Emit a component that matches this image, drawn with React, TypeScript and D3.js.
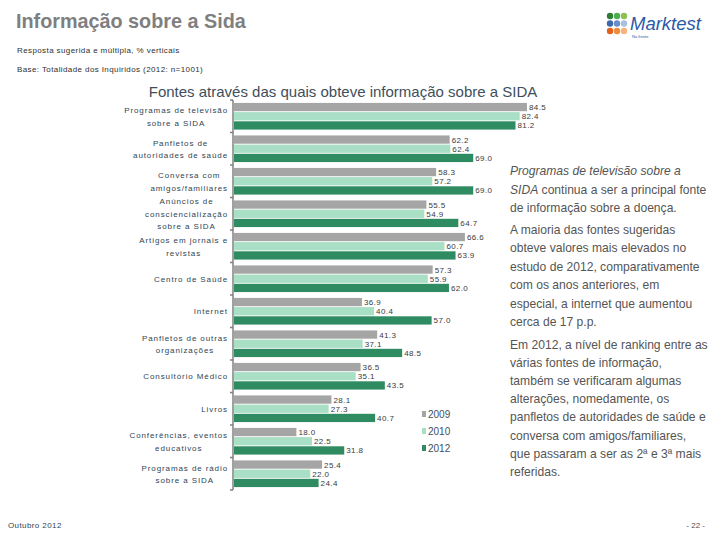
import React from "react";
import * as d3 from "d3";

const categories: string[][] = [
  ["Programas de televisão", "sobre a SIDA"],
  ["Panfletos de", "autoridades de saúde"],
  ["Conversa com", "amigos/familiares"],
  ["Anúncios de", "consciencialização", "sobre a SIDA"],
  ["Artigos em jornais e", "revistas"],
  ["Centro de Saúde"],
  ["Internet"],
  ["Panfletos de outras", "organizações"],
  ["Consultório Médico"],
  ["Livros"],
  ["Conferências, eventos", "educativos"],
  ["Programas de rádio", "sobre a SIDA"],
];
const years = ["2009", "2010", "2012"];
const values2009 = [84.5, 62.2, 58.3, 55.5, 66.6, 57.3, 36.9, 41.3, 36.5, 28.1, 18.0, 25.4];
const values2010 = [82.4, 62.4, 57.2, 54.9, 60.7, 55.9, 40.4, 37.1, 35.1, 27.3, 22.5, 22.0];
const values2012 = [81.2, 69.0, 69.0, 64.7, 63.9, 62.0, 57.0, 48.5, 43.5, 40.7, 31.8, 24.4];
const seriesValues = [values2009, values2010, values2012];
const colors = ["#a5a5a5", "#a9dfc5", "#2f8c62"];

const para1: { t: string; i?: boolean }[][] = [
  [{ t: "Programas de televisão sobre a", i: true }],
  [{ t: "SIDA", i: true }, { t: " continua a ser a principal fonte" }],
  [{ t: "de informação sobre a doença." }],
];
const para2 = [
  "A maioria das fontes sugeridas",
  "obteve valores mais elevados no",
  "estudo de 2012, comparativamente",
  "com os anos anteriores, em",
  "especial, a internet que aumentou",
  "cerca de 17 p.p.",
];
const para3 = [
  "Em 2012, a nível de ranking entre as",
  "várias fontes de informação,",
  "também se verificaram algumas",
  "alterações, nomedamente, os",
  "panfletos de autoridades de saúde e",
  "conversa com amigos/familiares,",
  "que passaram a ser as 2ª e 3ª mais",
  "referidas.",
];

const LABEL_FONT = "8px 'Liberation Sans', Arial, sans-serif";
const LABEL_LS = 0.9;
let ctx: CanvasRenderingContext2D | null = null;
function measure(s: string): number {
  if (!ctx) {
    const c = document.createElement("canvas");
    ctx = c.getContext("2d");
  }
  if (!ctx) return s.length * 5;
  ctx.font = LABEL_FONT;
  return ctx.measureText(s).width + LABEL_LS * s.length;
}

export default function App() {
  const W = 720;
  const H = 540;
  const axisX = 233;
  const y0 = d3
    .scaleBand<number>()
    .domain(categories.map((_, i) => i))
    .range([100, 490])
    .paddingInner(0.18)
    .paddingOuter(0.09);
  const y1 = d3
    .scaleBand<string>()
    .domain(years)
    .range([0, y0.bandwidth()])
    .paddingInner(0.1);
  const x = d3.scaleLinear().domain([0, 100]).range([axisX + 1, axisX + 1 + 346.7]);
  const step = y0.step();
  const boundaries = d3.range(categories.length + 1).map((i) => 100 + i * step);

  const labelRight = 228;
  const lineH = 12.5;
  const textFill = "#555555";
  const rtFont = "'Liberation Sans', Arial, sans-serif";

  return (
    <svg
      width={W}
      height={H}
      style={{ position: "absolute", left: 0, top: 0, background: "#fff" }}
    >
      {/* Header */}
      <text x={16} y={28} fontFamily={rtFont} fontWeight="bold" fontSize={19.8} fill="#7f7f7f">
        Informação sobre a Sida
      </text>
      <text x={17} y={53} fontFamily={rtFont} fontSize={8} letterSpacing={0.4} fill="#303030">
        Resposta sugerida e múltipla, % verticais
      </text>
      <text x={17} y={72} fontFamily={rtFont} fontSize={8} letterSpacing={0.4} fill="#303030">
        Base: Totalidade dos Inquiridos (2012: n=1001)
      </text>
      <text x={343} y={97} textAnchor="middle" fontFamily={rtFont} fontSize={15} fill="#3e4f5c">
        Fontes através das quais obteve informação sobre a SIDA
      </text>

      {/* Logo */}
      <g>
        {[
          ["#2e7d32", "#4caf50", "#8cc152"],
          ["#3c68ad", "#6a8fc8", "#a9bfe2"],
          ["#e5601c", "#f08a3c", "#f6b47c"],
        ].map((row, r) =>
          row.map((c, k) => (
            <circle key={`${r}-${k}`} cx={610 + k * 7} cy={16 + r * 7.5} r={3.2} fill={c} />
          ))
        )}
        <text x={630} y={30} fontFamily={rtFont} fontStyle="italic" fontSize={18.5} fill="#2a5aa7">
          Marktest
        </text>
        <text x={632} y={38} fontFamily={rtFont} fontSize={4} fill="#2a5aa7">
          Na frente
        </text>
      </g>

      {/* Bars */}
      {categories.map((_, ci) => (
        <g key={ci} transform={`translate(0,${y0(ci)})`}>
          {years.map((yr, si) => {
            const v = seriesValues[si][ci];
            const yy = y1(yr)!;
            const h = y1.bandwidth();
            return (
              <g key={yr}>
                <rect x={x(0)} y={yy} width={x(v) - x(0)} height={h} fill={colors[si]} />
                <text
                  x={x(v) + 2}
                  y={yy + h / 2 + 3}
                  fontFamily={rtFont}
                  fontSize={8}
                  letterSpacing={0.4}
                  fill="#3a3a3a"
                >
                  {v.toFixed(1)}
                </text>
              </g>
            );
          })}
        </g>
      ))}

      {/* Axis */}
      <line x1={axisX} x2={axisX} y1={100} y2={490} stroke="#808080" strokeWidth={1.5} />
      {boundaries.map((b, i) => (
        <line key={i} x1={axisX - 3} x2={axisX} y1={b} y2={b} stroke="#808080" strokeWidth={1.5} />
      ))}

      {/* Category labels */}
      {categories.map((lines, ci) => {
        const widths = lines.map(measure);
        const blockW = Math.max(...widths);
        const cx = labelRight - blockW / 2;
        const cy = y0(ci)! + y0.bandwidth() / 2;
        const top = cy - ((lines.length - 1) * lineH) / 2;
        return (
          <text
            key={ci}
            fontFamily={rtFont}
            fontSize={8}
            letterSpacing={LABEL_LS}
            fill="#2f4555"
            textAnchor="middle"
          >
            {lines.map((l, li) => (
              <tspan key={li} x={cx} y={top + li * lineH + 3}>
                {l}
              </tspan>
            ))}
          </text>
        );
      })}

      {/* Legend */}
      {years.map((yr, i) => (
        <g key={yr} transform={`translate(422,${411 + i * 17})`}>
          <rect x={0} y={0} width={4} height={6} fill={colors[i]} />
          <text x={6} y={7} fontFamily={rtFont} fontSize={10} fill="#3e4f5c">
            {yr}
          </text>
        </g>
      ))}

      {/* Right text */}
      <g fontFamily={rtFont} fontSize={12.1} fill={textFill}>
        {para1.map((segs, i) => (
          <text key={i} x={510} y={175 + i * 18.5}>
            {segs.map((s, k) => (
              <tspan key={k} fontStyle={s.i ? "italic" : "normal"}>
                {s.t}
              </tspan>
            ))}
          </text>
        ))}
        {para2.map((l, i) => (
          <text key={i} x={510} y={234 + i * 18.4}>
            {l}
          </text>
        ))}
        {para3.map((l, i) => (
          <text key={i} x={510} y={349 + i * 18.1}>
            {l}
          </text>
        ))}
      </g>

      {/* Footer */}
      <text x={8} y={528} fontFamily={rtFont} fontSize={8} letterSpacing={0.4} fill="#2f4555">
        Outubro 2012
      </text>
      <text x={705} y={528} textAnchor="end" fontFamily={rtFont} fontSize={8} fill="#505050">
        - 22 -
      </text>
    </svg>
  );
}
